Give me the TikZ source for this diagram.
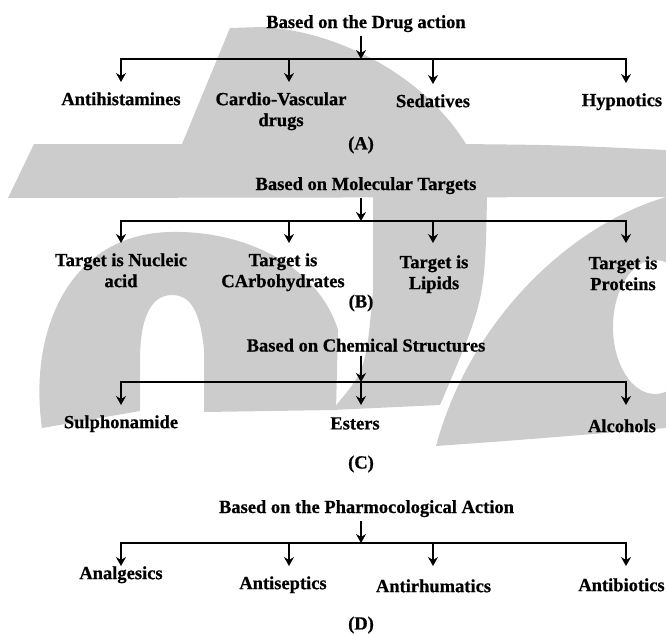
\documentclass[tikz,border=0pt]{standalone}
\usepackage{fontspec}
\setmainfont{Liberation Serif}[BoldFeatures={FakeBold=0.7}]
\usetikzlibrary{positioning, arrows.meta}
\definecolor{markgray}{HTML}{CCCCCC}

\begin{document}
\begin{tikzpicture}[x=1pt, y=-1pt, line width=2.6pt, >={Stealth[length=9pt, width=10pt, inset=3pt]},
    head/.style={font=\fontsize{18.5}{21}\selectfont\bfseries, anchor=base, inner xsep=0pt, inner ysep=3pt},
    leaf/.style={font=\fontsize{18.5}{21}\selectfont\bfseries, anchor=north, align=center, inner xsep=0pt, inner ysep=9pt},
    tag/.style={font=\fontsize{18.5}{21}\selectfont\bfseries, inner sep=0pt}]
\useasboundingbox (0,0) rectangle (666,633);

% background mark
\fill[markgray] (230,28) -- (182,144) -- (466,144) .. controls (420,70) and (330,30) .. (262,27) -- cycle;
\fill[markgray] (34,144) -- (460,144) .. controls (560,145) .. (666,150) -- (666,197) -- (8,198) -- cycle;
\fill[markgray] (42,428) .. controls (28,330) and (70,234) .. (170,232) .. controls (250,230) and (320,270) .. (338,330) -- (336,410) -- (204,412) -- (204,350) .. controls (200,310) and (190,295) .. (172,295) .. controls (150,295) and (140,320) .. (140,360) -- (140,411) -- cycle;
\fill[markgray] (373,197) -- (487,197) .. controls (485,300) .. (440,405) -- (332,410) .. controls (366,370) .. (373,290) -- cycle;
\fill[markgray, even odd rule] (666,197) .. controls (570,225) and (470,320) .. (436,446) .. controls (520,440) .. (666,428) -- cycle (655,327) ellipse [x radius=42, y radius=67];

% (A)
\node[head] (tA) at (366,28) {Based on the Drug action};
\coordinate (mA) at (361,59);
\coordinate (bA1) at (121,59);
\coordinate (bA2) at (289,59);
\coordinate (bA3) at (433,59);
\coordinate (bA4) at (626,59);
\node[leaf] (lA1) at (121,82) {Antihistamines};
\node[leaf] (lA2) at (281,82) {Cardio-Vascular\\drugs};
\node[leaf] (lA3) at (433,84) {Sedatives};
\node[leaf] (lA4) at (622,83) {Hypnotics};
\node[tag] (cA) at (361,145) {(A)};

\draw[->] (tA.south -| mA) -- (mA);
\draw[->] (mA) -| (bA1 |- lA1.north);
\draw[->] (mA) -| (bA4 |- lA4.north);
\draw[->] (bA2) -- (bA2 |- lA2.north);
\draw[->] (bA3) -- (bA3 |- lA3.north);

% (B)
\node[head] (tB) at (366,190) {Based on Molecular Targets};
\coordinate (mB) at (361,221);
\coordinate (bB1) at (121,221);
\coordinate (bB2) at (289,221);
\coordinate (bB3) at (433,221);
\coordinate (bB4) at (626,221);
\node[leaf] (lB1) at (121,243) {Target is Nucleic\\acid};
\node[leaf] (lB2) at (283,243) {Target is\\CArbohydrates};
\node[leaf] (lB3) at (434,245) {Target is\\Lipids};
\node[leaf] (lB4) at (623,246) {Target is\\Proteins};
\node[tag] (cB) at (361,303) {(B)};

\draw[->] (tB.south -| mB) -- (mB);
\draw[->] (mB) -| (bB1 |- lB1.north);
\draw[->] (mB) -| (bB4 |- lB1.north);
\draw[->] (bB2) -- (bB2 |- lB1.north);
\draw[->] (bB3) -- (bB3 |- lB1.north);

% (C)
\node[head] (tC) at (366,351.5) {Based on Chemical Structures};
\coordinate (mC) at (361,382);
\coordinate (bC1) at (121,382);
\coordinate (bC3) at (626,382);
\node[leaf] (lC1) at (121,405) {Sulphonamide};
\node[leaf] (lC2) at (355,407) {Esters};
\node[leaf] (lC3) at (622,409) {Alcohols};
\node[tag] (cC) at (361,464) {(C)};

\draw[->] (tC.south -| mC) -- (mC);
\draw[->] (mC) -| (bC1 |- lC1.north);
\draw[->] (mC) -| (bC3 |- lC1.north);
\draw[->] (mC) -- (mC |- lC1.north);

% (D)
\node[head] (tD) at (366.5,513) {Based on the Pharmocological Action};
\coordinate (mD) at (361,543);
\coordinate (bD1) at (121,543);
\coordinate (bD2) at (289,543);
\coordinate (bD3) at (433,543);
\coordinate (bD4) at (626,543);
\node[leaf] (lD1) at (121,556) {Analgesics};
\node[leaf] (lD2) at (283,566) {Antiseptics};
\node[leaf] (lD3) at (433.5,569) {Antirhumatics};
\node[leaf] (lD4) at (621.5,568) {Antibiotics};
\node[tag] (cD) at (361,625) {(D)};

\draw[->] (tD.south -| mD) -- (mD);
\draw[->] (mD) -| (bD1 |- lD2.north);
\draw[->] (mD) -| (bD4 |- lD2.north);
\draw[->] (bD2) -- (bD2 |- lD2.north);
\draw[->] (bD3) -- (bD3 |- lD2.north);
\end{tikzpicture}
\end{document}
